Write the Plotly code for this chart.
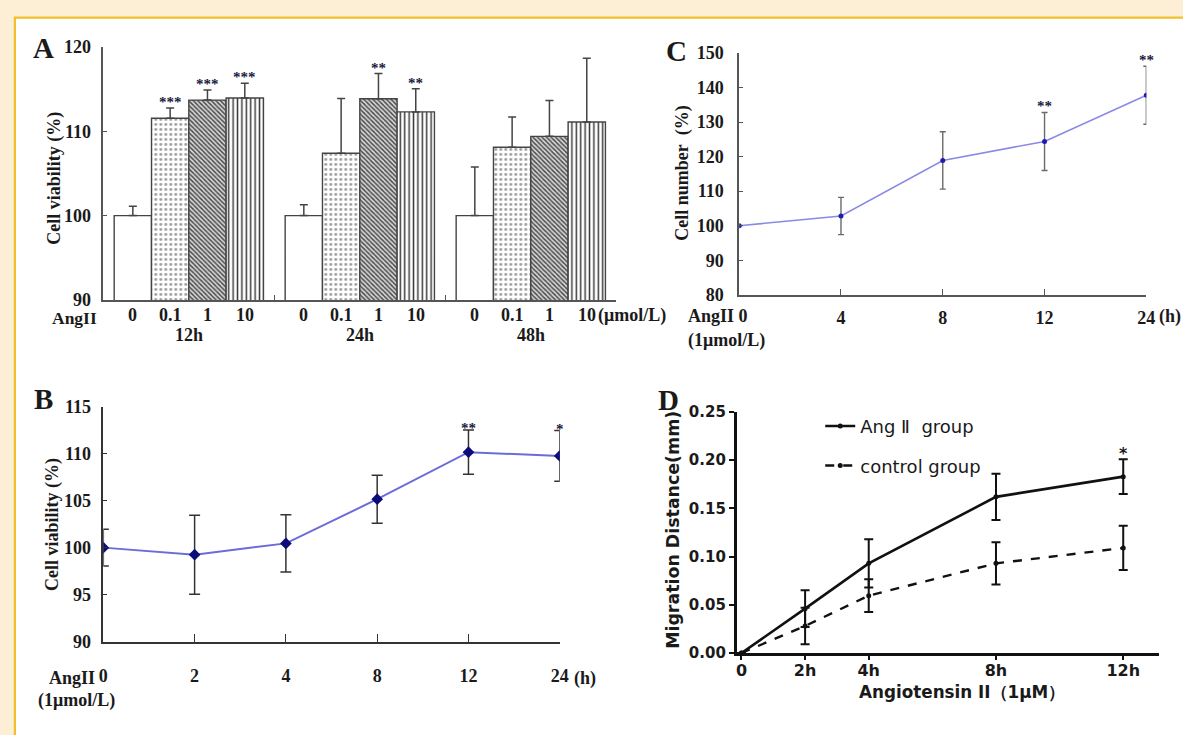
import plotly.graph_objects as go

W, H = 1183, 735
SERIF = "Liberation Serif"
SANS = "DejaVu Sans"
INK = "#1a1a1a"
CREAM = "#fcefd6"

# ---------------- Panel A data (cell viability, bars) ----------------
a_groups = ["12h", "24h", "48h"]
a_doses = ["0", "0.1", "1", "10"]
a_mean_0 = [100.0, 100.0, 100.0]
a_mean_01 = [111.55, 107.4, 108.1]
a_mean_1 = [113.7, 113.85, 109.4]
a_mean_10 = [113.95, 112.3, 111.1]
a_err_0 = [1.1, 1.3, 5.75]
a_err_01 = [1.2, 6.5, 3.6]
a_err_1 = [1.2, 3.0, 4.25]
a_err_10 = [1.75, 2.75, 7.55]
a_sig_0 = ["", "", ""]
a_sig_01 = ["***", "", ""]
a_sig_1 = ["***", "**", ""]
a_sig_10 = ["***", "**", ""]
a_yticks = [90, 100, 110, 120]

# ---------------- Panel B data ----------------
b_time = ["0", "2", "4", "8", "12", "24"]
b_mean = [100.0, 99.25, 100.45, 105.15, 110.15, 109.75]
b_err = [1.95, 4.2, 3.05, 2.55, 2.35, 2.7]
b_sig = ["", "", "", "", "**", "*"]
b_yticks = [90, 95, 100, 105, 110, 115]

# ---------------- Panel C data ----------------
c_time = ["0", "4", "8", "12", "24"]
c_mean = [100.0, 102.8, 118.9, 124.4, 137.8]
c_err = [0.0, 5.4, 8.3, 8.4, 8.4]
c_sig = ["", "", "", "**", "**"]
c_yticks = [80, 90, 100, 110, 120, 130, 140, 150]

# ---------------- Panel D data ----------------
d_hours = [0, 2, 4, 8, 12]
d_tick_text = ["0", "2h", "4h", "8h", "12h"]
d_ang = [0.0, 0.046, 0.093, 0.162, 0.183]
d_ang_err = [0.0, 0.019, 0.025, 0.024, 0.018]
d_ctrl = [0.0, 0.028, 0.0595, 0.093, 0.109]
d_ctrl_err = [0.0, 0.019, 0.017, 0.022, 0.023]
d_sig = ["", "", "", "", "*"]
d_yticks = [0.0, 0.05, 0.10, 0.15, 0.20, 0.25]
d_names = ["Ang \u2161\u00a0 group", "control group"]


def px(x):
    return x / W


def py(y):
    return 1 - y / H


fig = go.Figure()

# ---------------- Panel A ----------------
BARGAP = 0.127
a_means = [a_mean_0, a_mean_01, a_mean_1, a_mean_10]
a_errs = [a_err_0, a_err_01, a_err_1, a_err_10]
a_sigs = [a_sig_0, a_sig_01, a_sig_1, a_sig_10]
a_patterns = [
    dict(shape=""),
    dict(shape=".", size=5, solidity=0.25, fgcolor="#9a9a9a", bgcolor="white", fillmode="replace"),
    dict(shape="\\", size=3.2, solidity=0.45, fgcolor="#4a4a4a", bgcolor="#d8d8d8", fillmode="replace"),
    dict(shape="|", size=4.4, solidity=0.34, fgcolor="#3a3a3a", bgcolor="white", fillmode="replace"),
]
for i, dose in enumerate(a_doses):
    fig.add_trace(go.Bar(
        x=a_groups, y=a_means[i], name=dose, offsetgroup=str(i),
        marker=dict(color="white", line=dict(color="#444", width=1.4), pattern=a_patterns[i]),
        error_y=dict(type="data", array=a_errs[i], arrayminus=[0] * len(a_errs[i]),
                     symmetric=False, color="#444", thickness=1.5, width=4),
        xaxis="x", yaxis="y", showlegend=False, hoverinfo="skip",
    ))

# ---------------- Panel C ----------------
fig.add_trace(go.Scatter(
    x=c_time, y=c_mean, mode="lines+markers",
    line=dict(color="#8a8ae6", width=1.6),
    marker=dict(color="#1c1cb0", size=5),
    error_y=dict(type="data", array=c_err, color="#6a6a6a", thickness=1.4, width=3),
    xaxis="x2", yaxis="y2", showlegend=False, hoverinfo="skip",
))

# ---------------- Panel B ----------------
fig.add_trace(go.Scatter(
    x=b_time, y=b_mean, mode="lines+markers",
    line=dict(color="#6c6cd8", width=2),
    marker=dict(color="#0b0b7a", size=9, symbol="diamond"),
    error_y=dict(type="data", array=b_err, color="#333", thickness=1.5, width=5.5),
    xaxis="x3", yaxis="y3", showlegend=False, hoverinfo="skip",
))

# ---------------- Panel D ----------------
fig.add_trace(go.Scatter(
    x=d_hours, y=d_ang, mode="lines+markers", name=d_names[0], legendgroup="a",
    line=dict(color="#111", width=2.6),
    marker=dict(color="#111", size=5),
    error_y=dict(type="data", array=d_ang_err, color="#111", thickness=2, width=4.5),
    xaxis="x4", yaxis="y4", hoverinfo="skip",
))
fig.add_trace(go.Scatter(
    x=d_hours, y=d_ctrl, mode="lines+markers", name=d_names[1], legendgroup="c",
    line=dict(color="#111", width=2.4, dash="dash"),
    marker=dict(color="#111", size=5),
    error_y=dict(type="data", array=d_ctrl_err, color="#111", thickness=2, width=4.5),
    xaxis="x4", yaxis="y4", hoverinfo="skip",
))

annotations = []


def ann(text, x, y, xref="paper", yref="paper", size=18, family=SERIF, bold=True,
        xanchor="center", yanchor="middle", angle=0, color=INK, yshift=0):
    annotations.append(dict(
        text=text, x=x, y=y, xref=xref, yref=yref, showarrow=False,
        font=dict(family=family, size=size, color=color, weight="bold" if bold else "normal"),
        xanchor=xanchor, yanchor=yanchor, textangle=angle, yshift=yshift,
    ))


# panel letters
ann("A", px(39), py(39), size=29)
ann("C", px(680), py(42), size=29)
ann("B", px(39), py(400), size=29)
ann("D", px(671), py(401), size=29)

# Panel A labels
w = (1 - BARGAP) / len(a_doses)
for g, grp in enumerate(a_groups):
    for i, dose in enumerate(a_doses):
        xc = g + (i - (len(a_doses) - 1) / 2) * w
        ann(dose, xc, py(314), xref="x")
        if a_sigs[i][g]:
            ann(a_sigs[i][g], xc, a_means[i][g] + a_errs[i][g], xref="x", yref="y",
                size=15, yanchor="bottom", yshift=-4, color="#1a1a40")
    ann(grp, g, py(334), xref="x")
ann("AngII", px(70), py(317), size=17.5)
ann("(\u03bcmol/L)", px(598), py(314), xanchor="left")
ann("Cell viability (%)", px(50), py(173), angle=-90, size=18)

# Panel C labels
ann("AngII 0", px(689), py(315), xanchor="left")
ann("(h)", px(1166), py(315), xanchor="left")
ann("(1\u03bcmol/L)", px(689), py(340), xanchor="left")
ann("Cell number\u00a0 (%)", px(685.5), py(168), angle=-90, size=18)
for k, (m, e, s) in enumerate(zip(c_mean, c_err, c_sig)):
    if s:
        ann(s, k, m + e, xref="x2", yref="y2", size=15, yanchor="bottom", yshift=-4, color="#1a1a40")

# Panel B labels
ann("AngII", px(93), py(687), xanchor="right")
ann("(h)", px(574), py(687), xanchor="left")
ann("(1\u03bcmol/L)", px(72.7), py(710))
ann("Cell viability (%)", px(48), py(529), angle=-90, size=18)
for k, (m, e, s) in enumerate(zip(b_mean, b_err, b_sig)):
    if s:
        ann(s, k, m + e, xref="x3", yref="y3", size=15, yanchor="bottom", yshift=-8, color="#1a1a40")

# Panel D labels
ann("Migration Distance(mm)", px(676.4), py(534), angle=-90, size=17.4, family=SANS)
ann("Angiotensin II\uff081\u03bcM\uff09", px(968), py(701), size=16.8, family=SANS)
for hx, m, e, s in zip(d_hours, d_ang, d_ang_err, d_sig):
    if s:
        ann(s, hx, m + e, xref="x4", yref="y4", size=16, family=SANS, yanchor="bottom", yshift=-6)

serif_tick = dict(family=SERIF, size=18, color=INK, weight="bold")
sans_tick = dict(family=SANS, size=15, color=INK, weight="bold")

common = dict(showgrid=False, zeroline=False, showline=True)

fig.update_layout(
    width=W, height=H, autosize=False,
    margin=dict(l=0, r=0, t=0, b=0),
    paper_bgcolor=CREAM, plot_bgcolor="rgba(0,0,0,0)",
    barmode="group", bargap=BARGAP, bargroupgap=0,
    showlegend=True,
    legend=dict(x=px(825), y=py(409), xanchor="left", yanchor="top",
                bgcolor="rgba(0,0,0,0)", tracegroupgap=13,
                font=dict(family=SANS, size=18, color=INK)),
    shapes=[dict(type="rect", xref="paper", yref="paper", x0=px(10), x1=1.05,
                 y0=-0.05, y1=py(7.8), fillcolor="white",
                 line=dict(color="#f2bf2c", width=2.2), layer="below")],
    annotations=annotations,
    # Panel A
    xaxis=dict(domain=[px(99.5), px(618.6)], anchor="y", type="category",
               range=[-0.5, 2.5], ticks="inside", tickson="boundaries", ticklen=5,
               tickcolor="#555", linecolor="#555", linewidth=1.6, showticklabels=False, **common),
    yaxis=dict(domain=[py(298), py(38)], anchor="x", range=[90, 120], tickvals=a_yticks,
               ticks="inside", ticklen=4, tickcolor="#555", linecolor="#555", linewidth=1.6,
               tickfont=serif_tick, ticklabelstandoff=7, **common),
    # Panel C
    xaxis2=dict(domain=[px(743), px(1155)], anchor="y2", type="category",
                categoryorder="array", categoryarray=c_time, range=[0, len(c_time) - 1],
                tickvals=c_time, ticktext=[""] + c_time[1:], ticks="inside", ticklen=6,
                tickcolor="#555", linecolor="#555", linewidth=1.6,
                tickfont=serif_tick, ticklabelstandoff=6, **common),
    yaxis2=dict(domain=[py(292.7), py(44.3)], anchor="x2", range=[80, 150], tickvals=c_yticks,
                ticks="inside", ticklen=4, tickcolor="#555", linecolor="#555", linewidth=1.6,
                tickfont=serif_tick, ticklabelstandoff=10, **common),
    # Panel B
    xaxis3=dict(domain=[px(99.5), px(561.4)], anchor="y3", type="category",
                categoryorder="array", categoryarray=b_time, range=[0, len(b_time) - 1],
                tickvals=b_time, ticktext=b_time, ticks="inside", ticklen=8,
                tickcolor="#333", linecolor="#333", linewidth=1.6,
                tickfont=serif_tick, ticklabelstandoff=17, **common),
    yaxis3=dict(domain=[py(649.3), py(407.7)], anchor="x3", range=[90, 115], tickvals=b_yticks,
                ticks="inside", ticklen=4, tickcolor="#333", linecolor="#333", linewidth=1.6,
                tickfont=serif_tick, ticklabelstandoff=7, **common),
    # Panel D
    xaxis4=dict(domain=[px(740.4), px(1168)], anchor="y4", range=[-0.152, 13.13],
                tickvals=d_hours, ticktext=d_tick_text, ticks="outside", ticklen=4,
                tickwidth=2, tickcolor="#111", linecolor="#111", linewidth=2.6,
                ticklabelstandoff=-3,
                tickfont=dict(family=SANS, size=16, color=INK, weight="bold"), **common),
    yaxis4=dict(domain=[py(661), py(413.3)], anchor="x4", range=[0, 0.25], tickvals=d_yticks,
                tickformat=".2f", ticks="outside", ticklen=5, tickwidth=2, tickcolor="#111",
                linecolor="#111", linewidth=2.6, tickfont=sans_tick, **common),
)

fig.write_html("out.html", config={"displayModeBar": False},
               post_script="document.body.style.margin='0';document.body.style.overflow='hidden';"
                           "document.body.style.background='%s';" % CREAM)
